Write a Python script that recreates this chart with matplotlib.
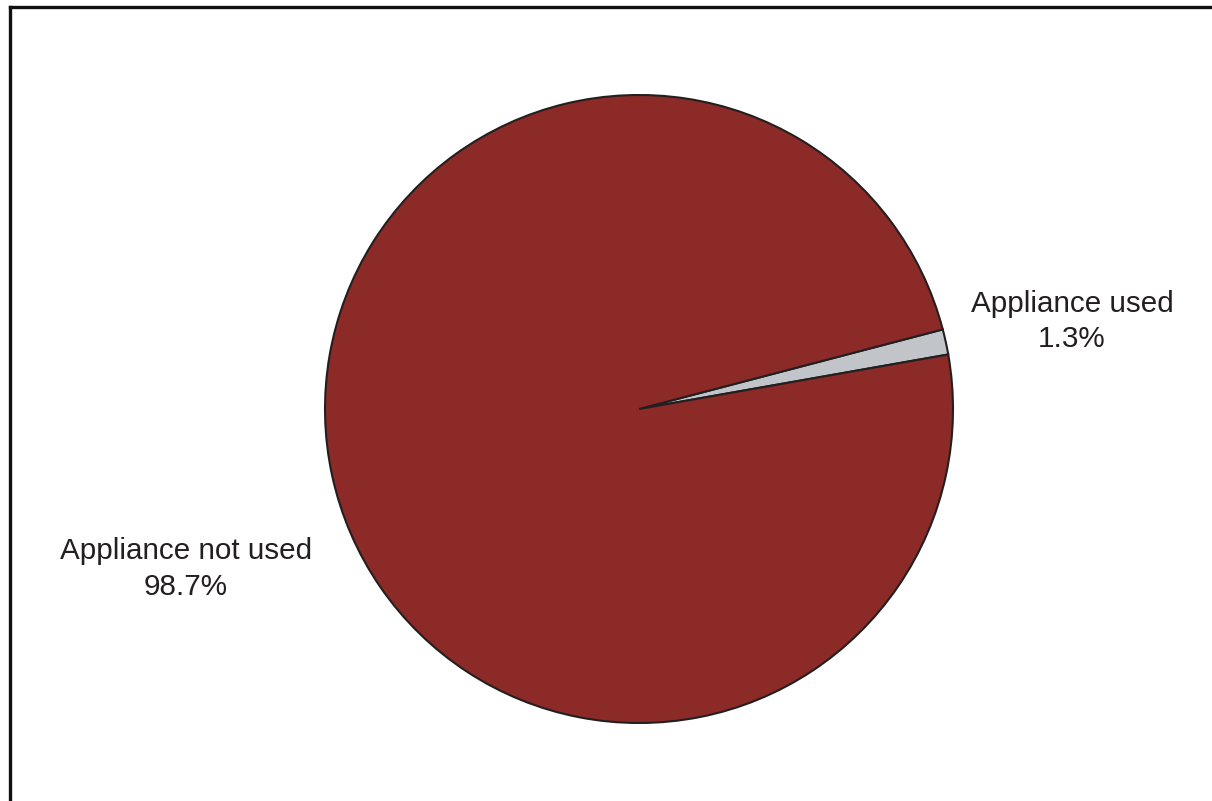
import matplotlib
matplotlib.use("Agg")
import matplotlib.pyplot as plt
from matplotlib.lines import Line2D

labels = ["Appliance used", "Appliance not used"]
values = [1.3, 98.7]
colors = ["#c1c5c9", "#8b2a26"]

W, H = 1212, 801
fig = plt.figure(figsize=(W / 100, H / 100), dpi=100)
fig.patch.set_facecolor("white")

# pie axes: centre (639, 409) px, radius 314 px
cx, cy, r = 639, 409, 314
ax = fig.add_axes([(cx - r) / W, (H - cy - r) / H, 2 * r / W, 2 * r / H])
ax.pie(values, colors=colors, startangle=10, counterclock=True, radius=1,
       wedgeprops=dict(edgecolor="#231f20", linewidth=1.5))
ax.set_xlim(-1, 1)
ax.set_ylim(-1, 1)
ax.set_aspect("equal")
ax.axis("off")

# open frame: top and left rules
fig.add_artist(Line2D([9.5 / W, 9.5 / W], [0, 1 - 7 / H], transform=fig.transFigure,
                      color="#111111", linewidth=2.4, solid_capstyle="projecting"))
fig.add_artist(Line2D([9.5 / W, 1], [1 - 7 / H, 1 - 7 / H], transform=fig.transFigure,
                      color="#111111", linewidth=2.4, solid_capstyle="projecting"))

txt = dict(family="Liberation Sans", fontsize=21.3, color="#231f20", ha="center", va="baseline")
label_pos = [(1072, 312, 347), (186, 559, 595)]
for lab, val, (x, y1, y2) in zip(labels, values, label_pos):
    fig.text(x / W, 1 - y1 / H, lab, **txt)
    fig.text(x / W, 1 - y2 / H, f"{val}%", **txt)

fig.savefig("out.png", dpi=100, facecolor="white")
